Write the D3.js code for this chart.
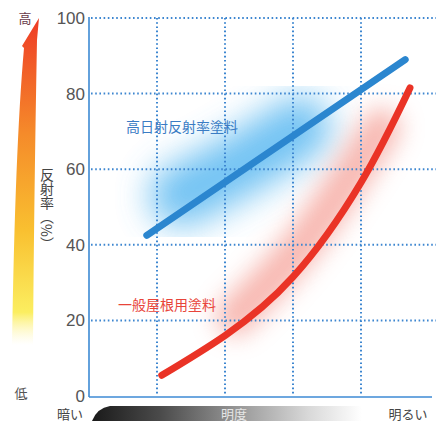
<!DOCTYPE html>
<html><head><meta charset="utf-8">
<script src="https://cdn.jsdelivr.net/npm/d3@7"></script>
<style>html,body{margin:0;padding:0;background:#fff;}svg{display:block;}</style>
</head><body>
<svg id="c" width="442" height="426"></svg>
<script>
// ---- data ----
const yTicks = [0, 20, 40, 60, 80, 100];
const xGrid = [1, 2, 3, 4];
const blueName = "高日射反射率塗料";
const redName = "一般屋根用塗料";
const blueSeries = [[0.85, 42.5], [4.65, 89]];
const redSeries = [[1.07, 5.5], [2, 16], [3, 31.5], [4, 56.5], [4.72, 81.5]];
const blueGlow = [[1.35, 53], [2.2, 61], [3.1, 71]];
const redGlow = [[2.15, 21], [2.8, 33], [3.3, 44], [3.8, 57], [4.3, 71]];
const yLabel = "反射率（%）";
const highLabel = "高", lowLabel = "低";
const darkLabel = "暗い", brightLabel = "明るい", midLabel = "明度";

// ---- layout ----
const svg = d3.select("#c");
const x = d3.scaleLinear().domain([0, 5]).range([89, 429]);
const y = d3.scaleLinear().domain([0, 100]).range([396, 18]);
const defs = svg.append("defs");
const font = "'Noto Sans CJK JP','Noto Sans',sans-serif";

// filters
const f1 = defs.append("filter").attr("id", "blurB").attr("x", "-60%").attr("y", "-60%").attr("width", "220%").attr("height", "220%");
f1.append("feGaussianBlur").attr("stdDeviation", 17);
const f2 = defs.append("filter").attr("id", "blurR").attr("x", "-60%").attr("y", "-60%").attr("width", "220%").attr("height", "220%");
f2.append("feGaussianBlur").attr("stdDeviation", 12);

// left arrow gradient
const ga = defs.append("linearGradient").attr("id", "ga").attr("x1", 0).attr("y1", 1).attr("x2", 0).attr("y2", 0);
ga.append("stop").attr("offset", "0").attr("stop-color", "#fff8c0").attr("stop-opacity", 0);
ga.append("stop").attr("offset", "0.1").attr("stop-color", "#fbee60");
ga.append("stop").attr("offset", "0.35").attr("stop-color", "#f9c030");
ga.append("stop").attr("offset", "0.65").attr("stop-color", "#f58a2a");
ga.append("stop").attr("offset", "1").attr("stop-color", "#ee3b26");

// bottom gradient
const gb = defs.append("linearGradient").attr("id", "gb").attr("x1", 0).attr("y1", 0).attr("x2", 1).attr("y2", 0);
gb.append("stop").attr("offset", "0").attr("stop-color", "#1a1a1a");
gb.append("stop").attr("offset", "0.25").attr("stop-color", "#4a4a4a");
gb.append("stop").attr("offset", "0.55").attr("stop-color", "#9a9a9a");
gb.append("stop").attr("offset", "0.8").attr("stop-color", "#d8d8d8");
gb.append("stop").attr("offset", "1").attr("stop-color", "#ffffff");

// glows
const line = d3.line().x(d => x(d[0])).y(d => y(d[1])).curve(d3.curveNatural);
svg.append("path").attr("d", line(blueGlow)).attr("fill", "none")
  .attr("stroke", "#4fb4f0").attr("stroke-width", 62).attr("stroke-linecap", "round")
  .attr("opacity", 0.8).attr("filter", "url(#blurB)");
svg.append("path").attr("d", line(redGlow)).attr("fill", "none")
  .attr("stroke", "#f49a90").attr("stroke-width", 38).attr("stroke-linecap", "round")
  .attr("opacity", 0.7).attr("filter", "url(#blurR)");

// grid
const gridC = "#3d86d0";
svg.append("g").selectAll("line").data(yTicks.filter(d => d > 0)).join("line")
  .attr("x1", x(0) + 2).attr("x2", 436).attr("y1", d => y(d)).attr("y2", d => y(d))
  .attr("stroke", gridC).attr("stroke-width", 2).attr("stroke-dasharray", "1.6,2.6");
svg.append("g").selectAll("line").data(xGrid).join("line")
  .attr("x1", d => x(d)).attr("x2", d => x(d)).attr("y1", y(100)).attr("y2", y(0))
  .attr("stroke", gridC).attr("stroke-width", 2).attr("stroke-dasharray", "1.6,2.6");

// axes lines
svg.append("line").attr("x1", x(0)).attr("x2", x(0)).attr("y1", y(100) - 1).attr("y2", 397)
  .attr("stroke", "#3d8ad4").attr("stroke-width", 1.6);
svg.append("line").attr("x1", x(0)).attr("x2", 432).attr("y1", 397).attr("y2", 397)
  .attr("stroke", "#3d8ad4").attr("stroke-width", 1.6);

// y tick labels
svg.append("g").selectAll("text").data(yTicks).join("text")
  .attr("x", 85).attr("y", d => y(d) + 6).attr("text-anchor", "end")
  .attr("font-family", "'Liberation Sans',Arial,sans-serif").attr("font-size", 17)
  .attr("fill", "#555").text(d => d);

// series
svg.append("path").attr("d", d3.line().x(d => x(d[0])).y(d => y(d[1]))(blueSeries))
  .attr("fill", "none").attr("stroke", "#2b86cf").attr("stroke-width", 7).attr("stroke-linecap", "round");
svg.append("path").attr("d", line(redSeries))
  .attr("fill", "none").attr("stroke", "#ea3326").attr("stroke-width", 7).attr("stroke-linecap", "round");

// series labels
svg.append("text").attr("x", 126).attr("y", 132).attr("font-family", font).attr("font-size", 14)
  .attr("fill", "#3a7cc4").text(blueName);
svg.append("text").attr("x", 118).attr("y", 310).attr("font-family", font).attr("font-size", 14)
  .attr("fill", "#e8443a").text(redName);

// left arrow
const arrow = d3.path();
arrow.moveTo(39, 18);
arrow.lineTo(37, 40);
arrow.quadraticCurveTo(34, 200, 33, 345);
arrow.lineTo(12, 345);
arrow.quadraticCurveTo(15, 150, 24, 48);
arrow.lineTo(22, 46);
arrow.closePath();
svg.append("path").attr("d", arrow.toString()).attr("fill", "url(#ga)");

svg.append("text").attr("x", 25).attr("y", 23).attr("text-anchor", "middle").attr("font-family", font)
  .attr("font-size", 13).attr("fill", "#6a3a4a").text(highLabel);
svg.append("text").attr("x", 21).attr("y", 398).attr("text-anchor", "middle").attr("font-family", font)
  .attr("font-size", 13).attr("fill", "#555").text(lowLabel);
svg.append("text").attr("x", 47).attr("y", 168).attr("writing-mode", "vertical-rl")
  .attr("font-family", font).attr("font-size", 14).attr("fill", "#444").text(yLabel);

// bottom brightness bar
const bar = d3.path();
bar.moveTo(92, 421);
bar.quadraticCurveTo(97, 408, 110, 406);
bar.lineTo(362, 406);
bar.lineTo(362, 421);
bar.closePath();
svg.append("path").attr("d", bar.toString()).attr("fill", "url(#gb)");
svg.append("text").attr("x", 234).attr("y", 419).attr("text-anchor", "middle").attr("font-family", font)
  .attr("font-size", 13).attr("fill", "#e6e6e6").text(midLabel);
svg.append("text").attr("x", 70).attr("y", 419).attr("text-anchor", "middle").attr("font-family", font)
  .attr("font-size", 13).attr("fill", "#444").text(darkLabel);
svg.append("text").attr("x", 408).attr("y", 419).attr("text-anchor", "middle").attr("font-family", font)
  .attr("font-size", 13).attr("fill", "#444").text(brightLabel);
</script>
</body></html>
